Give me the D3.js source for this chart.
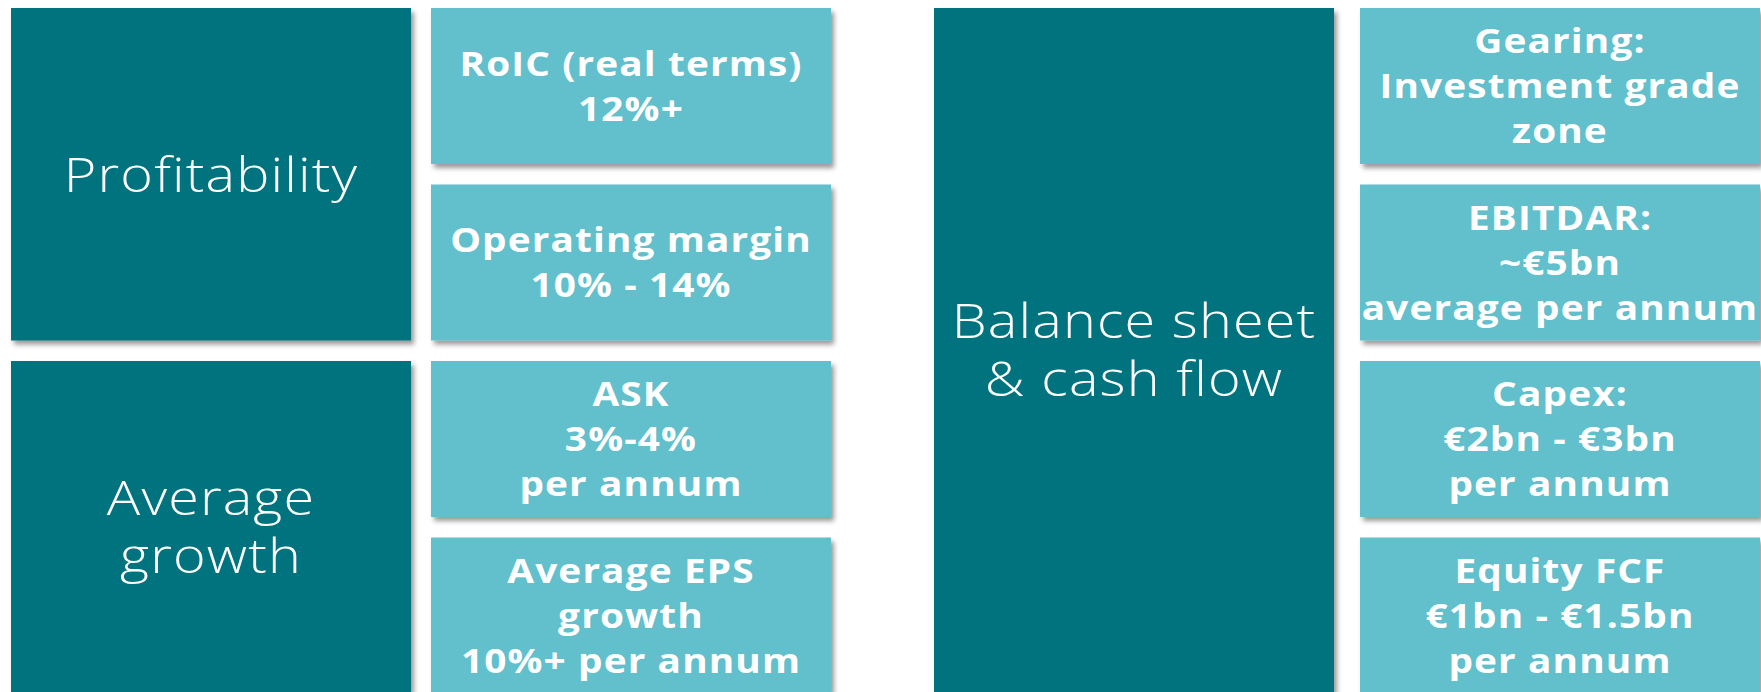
<!DOCTYPE html>
<html lang="en">
    <head>
        <meta charset="UTF-8">
        <script src="https://d3js.org/d3.v7.min.js"></script>
        <title>Targets</title>
        <style>
            * {
                padding: 0;
                margin: 0;
            }
            body {
                background: #ffffff;
                overflow: hidden;
            }
        </style>
    </head>
    <body>
        <div id="chart"></div>

        <script>
            const w = 1761;
            const h = 692;

            // category boxes (dark) : label lines, panel, first row, last row
            const categoryLines = [['Profitability'], ['Average', 'growth'], ['Balance sheet', '& cash flow']];
            const categoryPanel = [0, 0, 1];
            const categoryRows = [[0, 1], [2, 3], [0, 3]];

            // target boxes (light) : label lines, category index, row
            const targetLines = [
                ['RoIC (real terms)', '12%+'],
                ['Operating margin', '10% - 14%'],
                ['ASK', '3%-4%', 'per annum'],
                ['Average EPS', 'growth', '10%+ per annum'],
                ['Gearing:', 'Investment grade', 'zone'],
                ['EBITDAR:', '~€5bn', 'average per annum'],
                ['Capex:', '€2bn - €3bn', 'per annum'],
                ['Equity FCF', '€1bn - €1.5bn', 'per annum']
            ];
            const targetCategory = [0, 0, 1, 1, 2, 2, 2, 2];
            const targetRows = [0, 1, 2, 3, 0, 1, 2, 3];

            const dark = '#02737e';
            const light = '#62c0cd';
            const boxW = 400;
            const boxH = 156;

            // panel x positions: [category column, target column]
            const panelX = d3.scaleOrdinal().domain([0, 1]).range([[11, 431], [934, 1360]]);
            const rowY = d3.scaleLinear().domain([0, 4]).range([8, 8 + 4 * 176.5]);

            const svg = d3.select('#chart').append('svg')
                .attr('width', w)
                .attr('height', h)
                .style('display', 'block');

            const defs = svg.append('defs');
            defs.append('filter')
                .attr('id', 'shadow')
                .attr('x', '-10%').attr('y', '-10%')
                .attr('width', '130%').attr('height', '130%')
                .append('feDropShadow')
                .attr('dx', 3)
                .attr('dy', 4)
                .attr('stdDeviation', 2.5)
                .attr('flood-color', '#000')
                .attr('flood-opacity', 0.4);

            // wide geometric look: open sans stretched a bit
            function addText(g, lines, cx, cy, size, lineH, weight, stretch) {
                const capShift = size * 0.36;
                const top = cy - (lines.length - 1) * lineH / 2 + capShift;
                g.selectAll('text.line')
                    .data(lines)
                    .enter()
                    .append('text')
                    .attr('class', 'line')
                    .attr('text-anchor', 'middle')
                    .attr('fill', '#ffffff')
                    .attr('transform', (d, i) => 'translate(' + cx + ',' + (top + i * lineH) + ') scale(' + stretch + ',1)')
                    .style('font-family', '"Open Sans", "Noto Sans", sans-serif')
                    .style('font-weight', weight)
                    .style('font-size', size + 'px')
                    .style('letter-spacing', '1px')
                    .text((d) => d);
            }

            const cats = svg.append('g').attr('class', 'categories');
            categoryLines.forEach((lines, i) => {
                const x = panelX(categoryPanel[i])[0];
                const y0 = rowY(categoryRows[i][0]);
                const y1 = rowY(categoryRows[i][1]) + boxH;
                const g = cats.append('g');
                g.append('rect')
                    .attr('x', x)
                    .attr('y', y0)
                    .attr('width', boxW)
                    .attr('height', y1 - y0)
                    .attr('fill', dark)
                    .attr('filter', 'url(#shadow)');
                addText(g, lines, x + boxW / 2, Math.min((y0 + y1) / 2, (y0 + h) / 2), 48, 58, 300, 1.16);
            });

            const targets = svg.append('g').attr('class', 'targets');
            targetLines.forEach((lines, i) => {
                const x = panelX(categoryPanel[targetCategory[i]])[1];
                const y0 = rowY(targetRows[i]);
                const g = targets.append('g');
                g.append('rect')
                    .attr('x', x)
                    .attr('y', y0)
                    .attr('width', boxW)
                    .attr('height', boxH)
                    .attr('fill', light)
                    .attr('filter', 'url(#shadow)');
                addText(g, lines, x + boxW / 2, y0 + boxH / 2, 34, 45, 700, 1.14);
            });
        </script>
    </body>
</html>
